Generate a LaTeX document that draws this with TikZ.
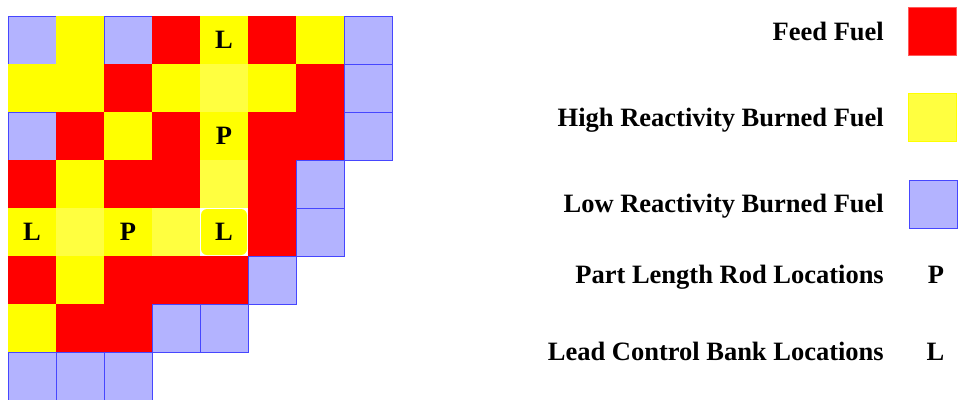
\documentclass[tikz,border=0pt]{standalone}
\usepackage{fontspec}
\setmainfont{Liberation Serif}
\definecolor{feed}{RGB}{255,0,0}
\definecolor{hiburn}{RGB}{255,255,0}
\definecolor{hilite}{RGB}{255,255,64}
\definecolor{loburn}{RGB}{179,179,255}
\definecolor{loedge}{RGB}{70,70,255}
\definecolor{feededge}{RGB}{255,90,90}
\tikzset{
  cell/.style={minimum size=48pt, inner sep=0pt, outer sep=0pt, line width=0.8pt},
  cF/.style={cell, fill=feed, draw=feed},
  cH/.style={cell, fill=hiburn, draw=hiburn},
  cS/.style={cell, fill=hilite, draw=hilite},
  cB/.style={cell, fill=loburn, draw=loedge},
  cW/.style={cell, fill=white, draw=white},
  rodmark/.style={font=\bfseries\fontsize{26.5}{30}\selectfont},
  legendtxt/.style={font=\bfseries\fontsize{26.5}{30}\selectfont, anchor=base east, inner sep=0pt},
  swatch/.style={minimum size=48pt, inner sep=0pt, line width=0.8pt},
}
\begin{document}
\begin{tikzpicture}[x=1pt, y=-1pt]
\useasboundingbox (0,0) rectangle (958,399);
% core loading map, one row per line (row, then column list of styles)
\foreach \r/\row in {
  0/{cB,cH,cB,cF,cH,cF,cH,cB},
  1/{cH,cH,cF,cH,cS,cH,cF,cB},
  2/{cB,cF,cH,cF,cH,cF,cF,cB},
  3/{cF,cH,cF,cF,cS,cF,cB},
  4/{cH,cS,cH,cS,cW,cF,cB},
  5/{cF,cH,cF,cF,cF,cB},
  6/{cH,cF,cF,cB,cB},
  7/{cB,cB,cB}} {
  \foreach \s [count=\c from 0] in \row {
    \node[\s] (c-\r-\c) at ({32+48*\c},{40+48*\r}) {};
  }
}
% rounded lead bank assembly
\node[cell, fill=hiburn, rounded corners=6pt, minimum size=46pt] (lead4) at (c-4-4) {};
% rod location marks
\node[rodmark] (m1) at (c-0-4) {L};
\node[rodmark] (m2) at (c-2-4) {P};
\node[rodmark] (m3) at (c-4-0) {L};
\node[rodmark] (m4) at (c-4-2) {P};
\node[rodmark] (m5) at (lead4) {L};
% legend
\node[legendtxt] (t1) at (884,40) {Feed Fuel};
\node[legendtxt] (t2) at (884,126) {High Reactivity Burned Fuel};
\node[legendtxt] (t3) at (884,212) {Low Reactivity Burned Fuel};
\node[legendtxt] (t4) at (884,283) {Part Length Rod Locations};
\node[legendtxt] (t5) at (884,360) {Lead Control Bank Locations};
\node[swatch, fill=feed, draw=feededge] (s1) at (932.5,31) {};
\node[swatch, fill=hilite, draw=hiburn] (s2) at (932.5,117.5) {};
\node[swatch, fill=loburn, draw=loedge] (s3) at (933,204) {};
\node[font=\bfseries\fontsize{26.5}{30}\selectfont, anchor=base] (p) at (936,283) {P};
\node[font=\bfseries\fontsize{26.5}{30}\selectfont, anchor=base] (l) at (935.5,360) {L};
\end{tikzpicture}
\end{document}
